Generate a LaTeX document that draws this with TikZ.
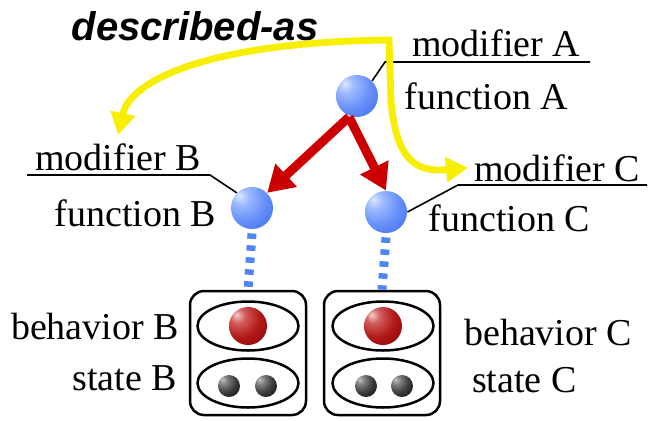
\documentclass[tikz,border=0pt]{standalone}
\usepackage{fontspec}
\setmainfont{Liberation Serif}
\setsansfont{Liberation Sans}
\usetikzlibrary{arrows.meta, positioning, calc, shapes.geometric}
\definecolor{callred}{HTML}{CC0000}
\definecolor{descyellow}{HTML}{F7EE00}
\definecolor{linkblue}{HTML}{4F86F7}
% ball shades
\definecolor{fb0}{HTML}{DCE7FF}
\definecolor{fb1}{HTML}{9DBAFF}
\definecolor{fb2}{HTML}{6890F8}
\definecolor{fb3}{HTML}{4676F0}
\definecolor{fb4}{HTML}{3766E2}
\definecolor{rb0}{HTML}{F4CCCC}
\definecolor{rb1}{HTML}{D25C5C}
\definecolor{rb2}{HTML}{B21818}
\definecolor{rb3}{HTML}{920A0A}
\definecolor{rb4}{HTML}{780606}
\definecolor{kb0}{HTML}{C4C4C4}
\definecolor{kb1}{HTML}{808080}
\definecolor{kb2}{HTML}{3C3C3C}
\definecolor{kb3}{HTML}{141414}
\definecolor{kb4}{HTML}{050505}
\pgfdeclareradialshading{funcball}{\pgfpoint{-15bp}{15bp}}{color(0bp)=(fb0); color(10bp)=(fb1); color(26bp)=(fb2); color(42bp)=(fb3); color(60bp)=(fb4); color(100bp)=(fb4)}
\pgfdeclareradialshading{behball}{\pgfpoint{-15bp}{15bp}}{color(0bp)=(rb0); color(10bp)=(rb1); color(26bp)=(rb2); color(42bp)=(rb3); color(60bp)=(rb4); color(100bp)=(rb4)}
\pgfdeclareradialshading{stball}{\pgfpoint{-15bp}{15bp}}{color(0bp)=(kb0); color(10bp)=(kb1); color(26bp)=(kb2); color(42bp)=(kb3); color(60bp)=(kb4); color(100bp)=(kb4)}

\begin{document}
\begin{tikzpicture}[
    x=0.5pt, y=-0.5pt,
    func/.style={circle, minimum size=21pt, inner sep=0pt, shading=funcball},
    behav/.style={circle, minimum size=19pt, inner sep=0pt, shading=behball},
    stv/.style={circle, minimum size=11pt, inner sep=0pt, shading=stball},
    part/.style={draw, line width=1.25pt, ellipse, minimum width=50.5pt, minimum height=24.5pt},
    unit/.style={draw, line width=1.25pt, rounded corners=7pt, minimum width=58pt, minimum height=62pt},
    lbl/.style={font=\fontsize{19}{21}\selectfont, inner sep=0pt},
    lead/.style={line width=0.8pt},
    calls/.style={callred, line width=4.5pt, -{Triangle[length=13pt,width=15pt]}},
    descr/.style={descyellow, line width=3.4pt, {Triangle[length=11pt,width=12pt]}-{Triangle[length=11pt,width=12pt]}},
    impl/.style={linkblue, line width=4.5pt, dash pattern=on 2.75pt off 3.25pt}
]
\useasboundingbox (0,0) rectangle (660,420);

% functions
\node[func] (fA) at (357,96) {};
\node[func] (fB) at (252,208) {};
\node[func] (fC) at (386,212) {};

\node[lbl, right=13pt of fA] (funA) {function A};
\node[lbl, left=7pt of fB, yshift=-2.5pt] (funB) {function B};
\node[lbl, right=10.5pt of fC, yshift=-3pt] (funC) {function C};

% modifiers
\node[lbl, anchor=base west] (modA) at (412,56) {modifier A};
\node[lbl, anchor=base west] (modB) at (35,170) {modifier B};
\node[lbl, anchor=base west] (modC) at (474,181) {modifier C};
\coordinate (kA) at (385,62);
\coordinate (kB) at (210,175);
\coordinate (kC) at (458,185);
\draw[lead] (fA.45) -- (kA) -- ++(205,0);
\draw[lead] (fB.135) -- (kB) -- ++(-183,0);
\draw[lead] (fC.east) -- (kC) -- ++(189,0);

% described-as
\node[font=\sffamily\bfseries\itshape\fontsize{20}{22}\selectfont, inner sep=0pt] (desc) at (195,26) {described-as};
\coordinate (top) at (389,40);
\draw[descr] ([yshift=4pt]modB.north) .. controls (130,80) and (210,42) .. (top)
    -- (391,100) .. controls (396,165) and (420,172) .. ([xshift=-3pt]modC.west);

% calls
\coordinate (split) at (349,117);
\draw[calls] (split) -- (fB.45);
\draw[calls] (split) -- (fC.north);

% units
\node[unit] (unitB) at (248,353) {};
\node[unit] (unitC) at (382,353) {};
\node[part] (behB) at (248,326) {};
\node[part] (stB) at (248,383) {};
\node[part] (behC) at (383,326) {};
\node[part] (stC) at (383,383) {};
\node[behav] (bB) at (behB) {};
\node[behav] (bC) at (behC) {};
\node[stv] (sB1) at (229,386) {};
\node[stv] (sB2) at (266,386) {};
\node[stv] (sC1) at (366,386) {};
\node[stv] (sC2) at (402,386) {};

\draw[impl] ([yshift=-2pt]fB.south) -- (unitB.north);
\draw[impl] ([yshift=-2pt]fC.south) -- (unitC.north);

\node[lbl, left=8.5pt of behB] (lbB) {behavior B};
\node[lbl, left=9.5pt of stB, yshift=2.5pt] (lsB) {state B};
\node[lbl, right=14.5pt of behC, yshift=-3pt] (lbC) {behavior C};
\node[lbl, right=18.5pt of stC, yshift=1.5pt] (lsC) {state C};
\end{tikzpicture}
\end{document}
